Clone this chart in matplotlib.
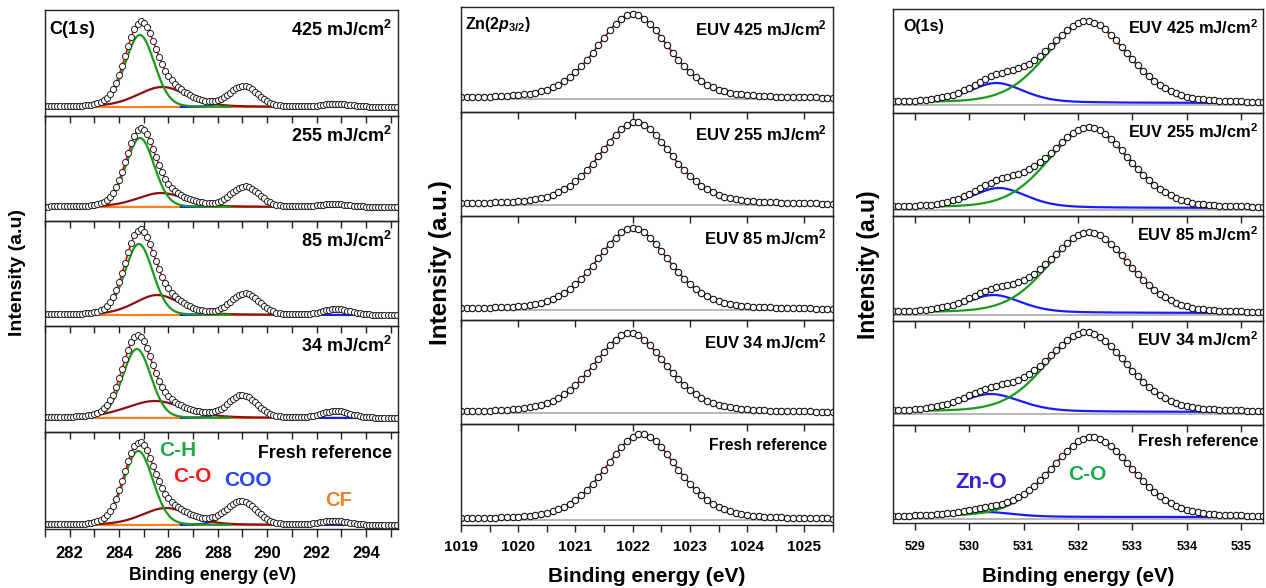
import numpy as np
import matplotlib
matplotlib.use('Agg')
import matplotlib.pyplot as plt
from matplotlib.ticker import MultipleLocator

plt.rcParams['font.family'] = ['Liberation Sans', 'DejaVu Sans']
plt.rcParams['font.weight'] = 'bold'
plt.rcParams['mathtext.fontset'] = 'custom'
plt.rcParams['mathtext.rm'] = 'Liberation Sans:bold'
plt.rcParams['mathtext.it'] = 'Liberation Sans:italic:bold'
plt.rcParams['mathtext.bf'] = 'Liberation Sans:bold'

W, H = 1266, 588

# ---------------- data (intensities in arbitrary units above baseline) -------------
# C(1s) column
c_labels = ['425 mJ/cm$^2$', '255 mJ/cm$^2$', '85 mJ/cm$^2$', '34 mJ/cm$^2$', 'Fresh reference']
c_energy = np.round(np.arange(281.0, 295.31, 0.125), 3)
c_ch_center = [284.84, 284.85, 284.80, 284.72, 284.78]
c_ch_height = [72, 69, 71, 69, 74]
c_ch_fwhm = [1.40, 1.35, 1.35, 1.35, 1.40]
c_co_center = [285.75, 285.70, 285.55, 285.45, 285.90]
c_co_height = [20, 14, 20, 17, 17]
c_co_fwhm = [2.4, 2.3, 2.2, 2.8, 2.3]
c_coo_center = [289.05, 289.10, 289.10, 289.00, 288.95]
c_coo_height = [20, 20, 21, 22, 23]
c_coo_fwhm = [1.35, 1.35, 1.35, 1.35, 1.45]
c_cf_center = [292.80, 292.70, 292.80, 292.80, 292.70]
c_cf_height = [3, 3, 6, 7, 4]
c_cf_fwhm = [1.3, 1.3, 1.3, 1.3, 1.3]

# Zn(2p3/2) column
zn_labels = ['EUV 425 mJ/cm$^2$', 'EUV 255 mJ/cm$^2$', 'EUV 85 mJ/cm$^2$', 'EUV 34 mJ/cm$^2$', 'Fresh reference']
zn_energy = np.round(np.arange(1019.0, 1025.51, 0.1), 2)
zn_center = [1022.00, 1022.05, 1022.00, 1021.95, 1022.15]
zn_height = [85, 83, 82, 80, 86]
zn_fwhm = [1.50, 1.50, 1.50, 1.50, 1.50]

# O(1s) column
o_labels = ['EUV 425 mJ/cm$^2$', 'EUV 255 mJ/cm$^2$', 'EUV 85 mJ/cm$^2$', 'EUV 34 mJ/cm$^2$', 'Fresh reference']
o_energy = np.round(np.arange(528.6, 535.41, 0.1), 2)
o_co_center = [532.17, 532.20, 532.20, 532.15, 532.25]
o_co_height = [81, 80, 80, 79, 80]
o_co_fwhm = [1.75, 1.75, 1.75, 1.75, 1.75]
o_zno_center = [530.50, 530.55, 530.45, 530.40, 530.30]
o_zno_height = [20, 20, 18, 18, 5]
o_zno_fwhm = [1.20, 1.20, 1.20, 1.30, 1.20]

# ---------------- layout (pixels) ----------------
cols = {
    'C': dict(x0=45, x1=398, bounds=[10, 116, 221, 326, 432, 529], base=[9, 14, 11, 14, 4]),
    'Zn': dict(x0=461, x1=833, bounds=[7, 112, 216, 320, 424, 525], base=[13, 11, 10, 11, 5]),
    'O': dict(x0=893, x1=1263, bounds=[9, 113, 216, 321, 425, 523], base=[10, 8, 8, 13, 6]),
}


def pv(x, c, a, w, eta):
    g = np.exp(-4 * np.log(2) * ((x - c) / w) ** 2)
    l = 1.0 / (1 + 4 * ((x - c) / w) ** 2)
    return a * (eta * l + (1 - eta) * g)


fig = plt.figure(figsize=(W / 100, H / 100), dpi=100)


def px_axes(x0, x1, ytop, ybot):
    ax = fig.add_axes([x0 / W, 1 - ybot / H, (x1 - x0) / W, (ybot - ytop) / H])
    ax.set_facecolor('none')
    for s in ax.spines.values():
        s.set_color('#222222')
        s.set_linewidth(1.0)
    ax.set_yticks([])
    return ax


def ftext(x, y, s, **kw):
    fig.text(x / W, 1 - y / H, s, va='center', fontweight='bold', **kw)


mk = dict(marker='o', ms=4.6, mfc='white', mec='#111111', mew=0.8)
mk_c = dict(marker='o', ms=4.4, mfc='white', mec='#222222', mew=0.7)

# ---- C column ----
col = cols['C']
for i in range(5):
    ytop, ybot = col['bounds'][i], col['bounds'][i + 1]
    ax = px_axes(col['x0'], col['x1'], ytop, ybot)
    hpx = ybot - ytop
    ax.set_ylim(-col['base'][i], hpx - col['base'][i])
    ax.set_xlim(281.0, 295.3)
    xf = np.linspace(281.0, 295.3, 800)
    p_ch = (c_ch_center[i], c_ch_height[i], c_ch_fwhm[i], 0.1)
    p_co = (c_co_center[i], c_co_height[i], c_co_fwhm[i], 0.3)
    p_coo = (c_coo_center[i], c_coo_height[i], c_coo_fwhm[i], 0.1)
    p_cf = (c_cf_center[i], c_cf_height[i], c_cf_fwhm[i], 0.1)
    env = pv(xf, *p_ch) + pv(xf, *p_co) + pv(xf, *p_coo) + pv(xf, *p_cf)
    ax.plot(xf, pv(xf, *p_cf), color='#ff8020', lw=1.6)
    m = xf >= 286.5
    ax.plot(xf[m], pv(xf[m], *p_coo), color='#1a1aff', lw=1.6)
    m = (xf >= 282.5) & (xf <= 290.5)
    ax.plot(xf[m], pv(xf[m], *p_co), color='#8b1010', lw=1.6)
    m = (xf >= 283.0) & (xf <= 288.5)
    ax.plot(xf[m], pv(xf[m], *p_ch), color='#1a9a1a', lw=1.6)
    ax.plot(xf, env, color='#ff0000', lw=1.2)
    x = c_energy
    y = pv(x, *p_ch) + pv(x, *p_co) + pv(x, *p_coo) + pv(x, *p_cf)
    ax.plot(x, y, ls='none', **mk_c)
    ax.xaxis.set_major_locator(MultipleLocator(2))
    ax.xaxis.set_minor_locator(MultipleLocator(1))
    ax.tick_params(axis='x', which='both', direction='out', length=5, width=1,
                   color='#222222', labelbottom=(i == 4), labelsize=12, pad=6)
    if i == 4:
        ax.tick_params(axis='x', which='both', length=6)
    lbly = ytop + (22 if i == 4 else 20)
    ftext(392, lbly, c_labels[i], ha='right', fontsize=13 if i < 4 else 12.8)
ftext(49, 30, 'C(1$s$)', ha='left', fontsize=13)
ftext(178, 450, 'C-H', ha='center', fontsize=15, color='#22aa44')
ftext(192, 476, 'C-O', ha='center', fontsize=15, color='#ff1a1a')
ftext(248, 480, 'COO', ha='center', fontsize=15, color='#2244ff')
ftext(338, 500, 'CF', ha='center', fontsize=14.5, color='#f08030')
fig.text(18 / W, 1 - 272 / H, 'Intensity (a.u)', rotation=90, ha='center', va='center',
         fontsize=14, fontweight='bold')
ftext(213, 576, 'Binding energy (eV)', ha='center', fontsize=12.7)

# ---- Zn column ----
col = cols['Zn']
for i in range(5):
    ytop, ybot = col['bounds'][i], col['bounds'][i + 1]
    ax = px_axes(col['x0'], col['x1'], ytop, ybot)
    hpx = ybot - ytop
    ax.set_ylim(-col['base'][i], hpx - col['base'][i])
    ax.set_xlim(1019.0, 1025.5)
    xf = np.linspace(1019.0, 1025.5, 600)
    ax.axhline(0, color='#aaaaaa', lw=1.2)
    ax.plot(xf, pv(xf, zn_center[i], zn_height[i], zn_fwhm[i], 0.35), color='#ff0000', lw=1.2)
    x = zn_energy
    y = pv(x, zn_center[i], zn_height[i], zn_fwhm[i], 0.35)
    ax.plot(x, y, color='#222222', lw=0.6, **mk)
    ax.xaxis.set_major_locator(MultipleLocator(1))
    if i == 4:
        ax.xaxis.set_minor_locator(MultipleLocator(0.5))
    ax.tick_params(axis='x', which='both', direction='out', length=5, width=1,
                   color='#222222', labelbottom=(i == 4), labelsize=11, pad=6)
    lbly = ytop + 21
    ftext(827, lbly, zn_labels[i], ha='right', fontsize=12 if i < 4 else 11.3)
ftext(465, 24, 'Zn(2$p_{3/2}$)', ha='left', fontsize=11.5)
fig.text(440 / W, 1 - 263 / H, 'Intensity (a.u.)', rotation=90, ha='center', va='center',
         fontsize=17.5, fontweight='bold')
ftext(647, 577, 'Binding energy (eV)', ha='center', fontsize=15)

# ---- O column ----
col = cols['O']
for i in range(5):
    ytop, ybot = col['bounds'][i], col['bounds'][i + 1]
    ax = px_axes(col['x0'], col['x1'], ytop, ybot)
    hpx = ybot - ytop
    ax.set_ylim(-col['base'][i], hpx - col['base'][i])
    ax.set_xlim(528.6, 535.4)
    ax.axhline(-1.5, color='#aaaaaa', lw=1.2)
    xf = np.linspace(529.2, 534.6, 500)
    p_co = (o_co_center[i], o_co_height[i], o_co_fwhm[i], 0.2)
    p_zno = (o_zno_center[i], o_zno_height[i], o_zno_fwhm[i], 0.4)
    ax.plot(xf, pv(xf, *p_zno), color='#1a1aff', lw=1.6)
    ax.plot(xf, pv(xf, *p_co), color='#1a9a1a', lw=1.6)
    ax.plot(xf, pv(xf, *p_co) + pv(xf, *p_zno), color='#ff0000', lw=1.2)
    x = o_energy
    y = pv(x, *p_co) + pv(x, *p_zno)
    ax.plot(x, y, ls='none', **mk)
    ax.xaxis.set_major_locator(MultipleLocator(1))
    ax.tick_params(axis='x', which='both', direction='out', length=5, width=1,
                   color='#222222', labelbottom=(i == 4), labelsize=9, pad=8)
    lbly = ytop + (16 if i == 4 else 19)
    ftext(1258, lbly, o_labels[i], ha='right', fontsize=11.8 if i < 4 else 11.5)
ftext(903, 27, 'O(1s)', ha='left', fontsize=11.5)
ftext(981, 483, 'Zn-O', ha='center', fontsize=16, color='#3322d8')
ftext(1087, 474, 'C-O', ha='center', fontsize=15, color='#1aaa4a')
fig.text(868 / W, 1 - 265 / H, 'Intensity (a.u)', rotation=90, ha='center', va='center',
         fontsize=16.5, fontweight='bold')
ftext(1078, 577, 'Binding energy (eV)', ha='center', fontsize=14.7)

fig.savefig('out.png', dpi=100)
